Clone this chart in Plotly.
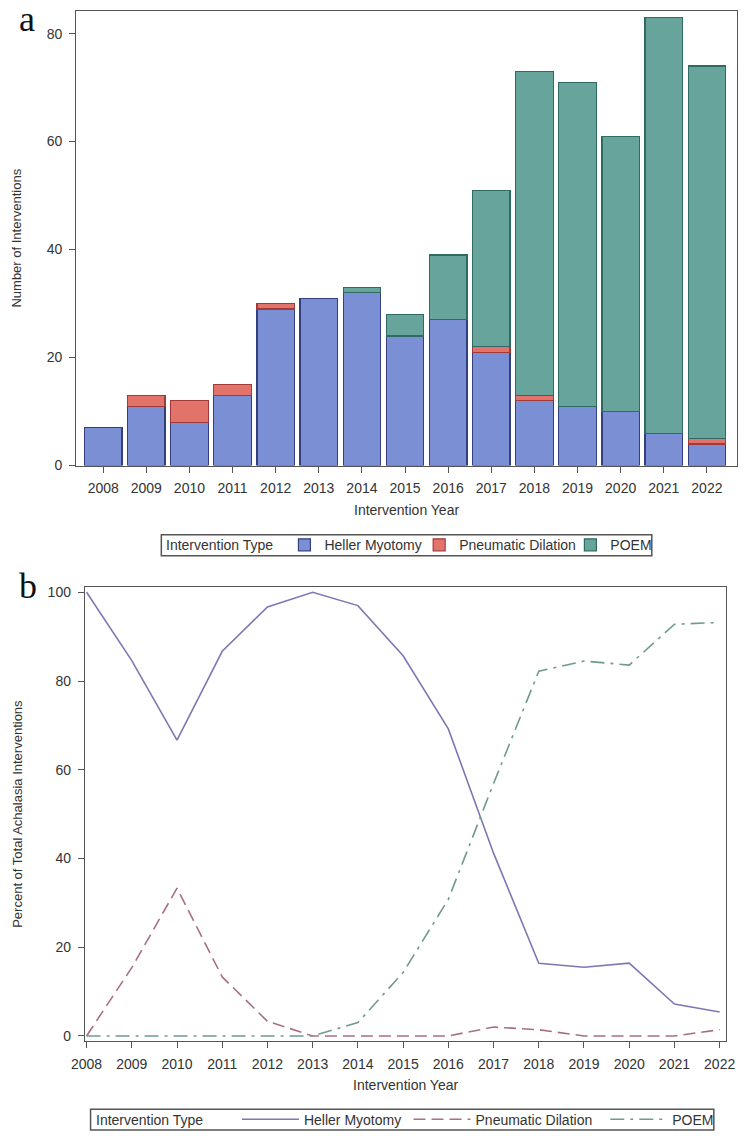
import plotly.graph_objects as go

years = [2008, 2009, 2010, 2011, 2012, 2013, 2014, 2015, 2016, 2017, 2018, 2019, 2020, 2021, 2022]
year_labels = [str(y) for y in years]

# Panel a: counts
heller_n = [7, 11, 8, 13, 29, 31, 32, 24, 27, 21, 12, 11, 10, 6, 4]
pd_n = [None, 2, 4, 2, 1, None, None, None, None, 1, 1, None, None, None, 1]
poem_n = [None, None, None, None, None, None, 1, 4, 12, 29, 60, 60, 51, 77, 69]

# Panel b: percent of total
heller_pct = [100, 84.6, 66.7, 86.7, 96.7, 100, 97.0, 85.7, 69.2, 41.2, 16.4, 15.5, 16.4, 7.2, 5.4]
pd_pct = [0, 15.4, 33.3, 13.3, 3.3, 0, 0, 0, 0, 2.0, 1.4, 0, 0, 0, 1.4]
poem_pct = [0, 0, 0, 0, 0, 0, 3.0, 14.3, 30.8, 56.9, 82.2, 84.5, 83.6, 92.8, 93.2]

W, H = 749, 1143
FONT = "Liberation Sans, Arial, sans-serif"
SERIF = "Liberation Serif, DejaVu Serif, serif"
TXT = "#333333"
AX = "#555555"
LEG_BORDER = "#555555"


def px_x(v):
    return v / W


def px_y(v):
    return 1 - v / H


fig = go.Figure()

# legend left positions (px) for each item
bar_specs = [
    ("Heller Myotomy", heller_n, "#7b8fd4", "#34407e", "legend", 279),
    ("Pneumatic Dilation", pd_n, "#e2736a", "#a33a3a", "legend3", 418),
    ("POEM", poem_n, "#67a59c", "#2f6b62", "legend4", 574),
]
line_specs = [
    ("Heller Myotomy", heller_pct, "#7d78b4", "solid", "legend2", 230),
    ("Pneumatic Dilation", pd_pct, "#a9707c", "12px,6px", "legend5", 407),
    ("POEM", poem_pct, "#6e9c8c", "14px,6px,3px,6px", "legend6", 610),
]

legends = {}
for name, vals, fill, line, leg, lx in bar_specs:
    fig.add_trace(go.Bar(
        x=year_labels, y=vals, name=name, showlegend=True,
        marker=dict(color=fill, line=dict(color=line, width=1.2)),
        width=0.87, xaxis="x", yaxis="y", legend=leg,
    ))
    legends[leg] = dict(
        orientation="h", x=px_x(lx), xanchor="left", y=px_y(547.5), yanchor="middle",
        borderwidth=0, bgcolor="rgba(0,0,0,0)", visible=True,
        font=dict(family=FONT, size=14, color=TXT), itemwidth=30,
    )

for name, vals, col, dash, leg, lx in line_specs:
    fig.add_trace(go.Scatter(
        x=years, y=vals, name=name, mode="lines", showlegend=True,
        line=dict(color=col, width=1.6, dash=dash),
        xaxis="x2", yaxis="y2", legend=leg,
    ))
    legends[leg] = dict(
        orientation="h", x=px_x(lx), xanchor="left", y=px_y(1127.5), yanchor="middle",
        borderwidth=0, bgcolor="rgba(0,0,0,0)", visible=True,
        font=dict(family=FONT, size=14, color=TXT), itemwidth=57,
    )

axis_common = dict(
    showline=True, linecolor=AX, linewidth=1, mirror=True,
    ticks="outside", ticklen=6, tickcolor=AX, tickwidth=1,
    showgrid=False, zeroline=False, ticklabelstandoff=4,
    tickfont=dict(family=FONT, size=14, color=TXT),
)

fig.update_layout(
    width=W, height=H,
    margin=dict(l=0, r=0, t=0, b=0),
    paper_bgcolor="white", plot_bgcolor="white",
    barmode="stack", showlegend=True,
    font=dict(family=FONT, color=TXT),
    xaxis=dict(
        domain=[px_x(64), px_x(746)], anchor="y",
        type="category", range=[-0.63, 14.7],
        title=dict(text="Intervention Year", font=dict(family=FONT, size=14, color=TXT), standoff=9),
        **axis_common,
    ),
    yaxis=dict(
        domain=[px_y(467), px_y(8)], anchor="x",
        range=[0, 84.2], tickvals=[0, 20, 40, 60, 80],
        title=dict(text="Number of Interventions", font=dict(family=FONT, size=13, color=TXT), standoff=22),
        **axis_common,
    ),
    xaxis2=dict(
        domain=[px_x(73), px_x(735)], anchor="y2",
        range=[2007.96, 2022.15], tickvals=years, ticktext=year_labels,
        title=dict(text="Intervention Year", font=dict(family=FONT, size=14, color=TXT), standoff=9),
        **axis_common,
    ),
    yaxis2=dict(
        domain=[px_y(1048), px_y(590)], anchor="x2",
        range=[-1.12, 101.12], tickvals=[0, 20, 40, 60, 80, 100],
        title=dict(text="Percent of Total Achalasia Interventions", font=dict(family=FONT, size=13, color=TXT), standoff=22),
        **axis_common,
    ),
    shapes=[
        dict(type="rect", xref="paper", yref="paper",
             x0=px_x(152), x1=px_x(658), y0=px_y(558), y1=px_y(537),
             line=dict(color=LEG_BORDER, width=1.5), fillcolor="rgba(0,0,0,0)", layer="below"),
        dict(type="rect", xref="paper", yref="paper",
             x0=px_x(79), x1=px_x(722), y0=px_y(1138), y1=px_y(1117),
             line=dict(color=LEG_BORDER, width=1.5), fillcolor="rgba(0,0,0,0)", layer="below"),
    ],
    annotations=[
        dict(text="Intervention Type", x=px_x(155), y=px_y(547.5), xref="paper", yref="paper",
             xanchor="left", yanchor="middle", showarrow=False,
             font=dict(family=FONT, size=14, color=TXT)),
        dict(text="Intervention Type", x=px_x(83), y=px_y(1127.5), xref="paper", yref="paper",
             xanchor="left", yanchor="middle", showarrow=False,
             font=dict(family=FONT, size=14, color=TXT)),
        dict(text="a", x=px_x(3), y=px_y(38), xref="paper", yref="paper",
             xanchor="left", yanchor="bottom", showarrow=False,
             font=dict(family=SERIF, size=36, color="#111111")),
        dict(text="b", x=px_x(3), y=px_y(611), xref="paper", yref="paper",
             xanchor="left", yanchor="bottom", showarrow=False,
             font=dict(family=SERIF, size=36, color="#111111")),
    ],
    **legends,
)

fig.write_html("out.html")
